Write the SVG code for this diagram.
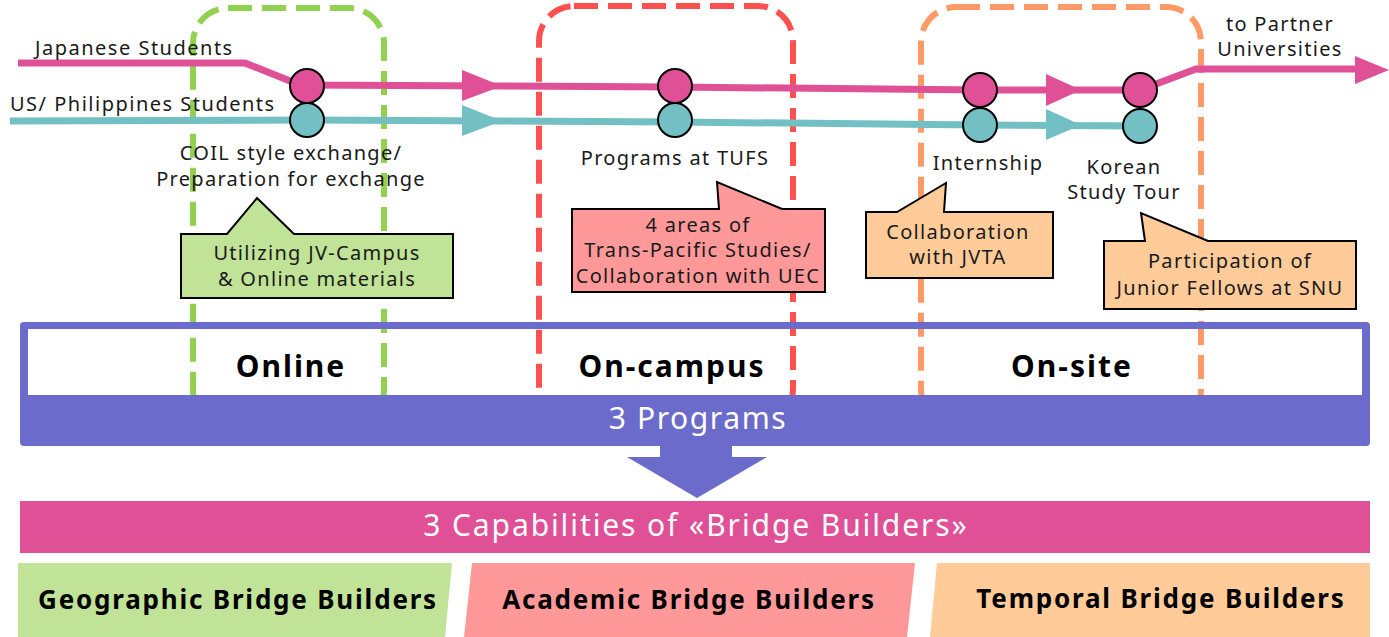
<svg xmlns="http://www.w3.org/2000/svg" width="1389" height="637" viewBox="0 0 1389 637">
<style>
text{font-family:"Noto Sans","DejaVu Sans",sans-serif;fill:#1a1a1a}
.lbl{font-size:20px;letter-spacing:1.5px}
.cal{font-size:20px;text-anchor:middle;letter-spacing:1.3px}
.sec{font-size:30px;font-weight:bold;text-anchor:middle;fill:#000;letter-spacing:2px}
.wht{fill:#fff;text-anchor:middle;font-size:30px}
.cap{font-size:26px;font-weight:bold;text-anchor:middle;fill:#000;letter-spacing:1.8px}
.dash{fill:none;stroke-width:6;stroke-dasharray:24 10}
.co{stroke:#000;stroke-width:2}
.st{stroke:#000;stroke-width:2}
.pk{fill:#E05096}
.tl{fill:#72BFC4}
</style>
<rect x="0" y="0" width="1389" height="637" fill="#fff"/>
<rect x="28" y="329" width="1334" height="66" fill="#fff"/>
<g id="region-online"><rect class="dash" x="193" y="8" width="191" height="417" rx="35" stroke="#92D050"/></g>
<g id="region-oncampus"><rect class="dash" x="539" y="6" width="254" height="419" rx="35" stroke="#FF5050"/></g>
<g id="region-onsite"><rect class="dash" x="921" y="7" width="280" height="418" rx="35" stroke="#FF9966"/></g>
<g id="programs">
<path fill="#6B6BCB" fill-rule="evenodd" d="M24,322 H1366 Q1370,322 1370,326 V442 Q1370,446 1366,446 H24 Q20,446 20,442 V326 Q20,322 24,322 Z M28,329 V395 H1362 V329 Z"/>
<text class="wht" x="698" y="429" letter-spacing="1.6">3 Programs</text>
<text class="sec" x="291" y="377">Online</text>
<text class="sec" x="672" y="377">On-campus</text>
<text class="sec" x="1072" y="377">On-site</text>
</g>
<g id="down-arrow"><polygon fill="#6B6BCB" points="660,446 732,446 732,457 767,457 697,498 627,457 660,457"/></g>
<g id="capabilities">
<rect x="20" y="501" width="1350" height="52" fill="#E05096"/>
<text class="wht" x="696" y="536" letter-spacing="1.9">3 Capabilities of «Bridge Builders»</text>
</g>
<g id="geo"><polygon fill="#C0E397" points="18,563 452,563 445,637 18,637"/><text class="cap" x="238" y="609">Geographic Bridge Builders</text></g>
<g id="acad"><polygon fill="#FF9999" points="472,563 915,563 907,637 464,637"/><text class="cap" x="689" y="609">Academic Bridge Builders</text></g>
<g id="temp"><polygon fill="#FFCC99" points="937,563 1370,563 1370,637 930,637"/><text class="cap" x="1161" y="608">Temporal Bridge Builders</text></g>
<g id="connectors">
<polyline fill="none" stroke="#E05096" stroke-width="7" points="18,63 245,63 300,85 500,86 675,87 980,90 1140,90 1196,69 1362,69"/>
<polyline fill="none" stroke="#72BFC4" stroke-width="7" points="10,121 307,120 500,121 675,122 980,125 1140,126"/>
<polygon class="pk" points="462,70 502,86 462,101"/>
<polygon class="tl" points="462,105 502,121 462,136"/>
<polygon class="pk" points="1046,74 1081,90 1046,106"/>
<polygon class="tl" points="1046,109 1081,125 1046,140"/>
<polygon class="pk" points="1355,56 1389,70 1355,84"/>
</g>
<g id="st-coil"><circle class="st pk" cx="307" cy="86" r="17"/><circle class="st tl" cx="307" cy="120" r="17"/>
<text class="cal" x="291" y="160">COIL style exchange/</text><text class="cal" x="291" y="186">Preparation for exchange</text></g>
<g id="st-tufs"><circle class="st pk" cx="675" cy="86" r="17"/><circle class="st tl" cx="675" cy="120" r="17"/>
<text class="cal" x="675" y="165">Programs at TUFS</text></g>
<g id="st-intern"><circle class="st pk" cx="980" cy="90" r="17"/><circle class="st tl" cx="980" cy="125" r="17"/>
<text class="cal" x="988" y="170">Internship</text></g>
<g id="st-korea"><circle class="st pk" cx="1140" cy="90" r="17"/><circle class="st tl" cx="1140" cy="126" r="17"/>
<text class="cal" x="1124" y="174">Korean</text><text class="cal" x="1124" y="199">Study Tour</text></g>
<g id="lbl-jp"><text class="lbl" x="35" y="55">Japanese Students</text></g>
<g id="lbl-us"><text class="lbl" x="10" y="111">US/ Philippines Students</text></g>
<g id="lbl-partner"><text class="cal" x="1280" y="31">to Partner</text><text class="cal" x="1280" y="56">Universities</text></g>
<g id="callout-jv"><path class="co" fill="#C0E397" d="M181,234 L227,234 L257,198 L294,234 L453,234 L453,298 L181,298 Z"/>
<text class="cal" x="317" y="260">Utilizing JV-Campus</text><text class="cal" x="317" y="286">&amp; Online materials</text></g>
<g id="callout-uec"><path class="co" fill="#FF9999" d="M572,209 L719,209 L717,182 L782,209 L825,209 L825,292 L572,292 Z"/>
<text class="cal" x="698" y="232">4 areas of</text><text class="cal" x="698" y="257">Trans-Pacific Studies/</text><text class="cal" x="698" y="283">Collaboration with UEC</text></g>
<g id="callout-jvta"><path class="co" fill="#FFCC99" d="M866,212 L897,212 L946,183 L944,212 L1053,212 L1053,278 L866,278 Z"/>
<text class="cal" x="958" y="239">Collaboration</text><text class="cal" x="958" y="264">with JVTA</text></g>
<g id="callout-snu"><path class="co" fill="#FFCC99" d="M1104,241 L1145,241 L1141,213 L1208,241 L1356,241 L1356,309 L1104,309 Z"/>
<text class="cal" x="1230" y="268">Participation of</text><text class="cal" x="1230" y="295">Junior Fellows at SNU</text></g>
</svg>
